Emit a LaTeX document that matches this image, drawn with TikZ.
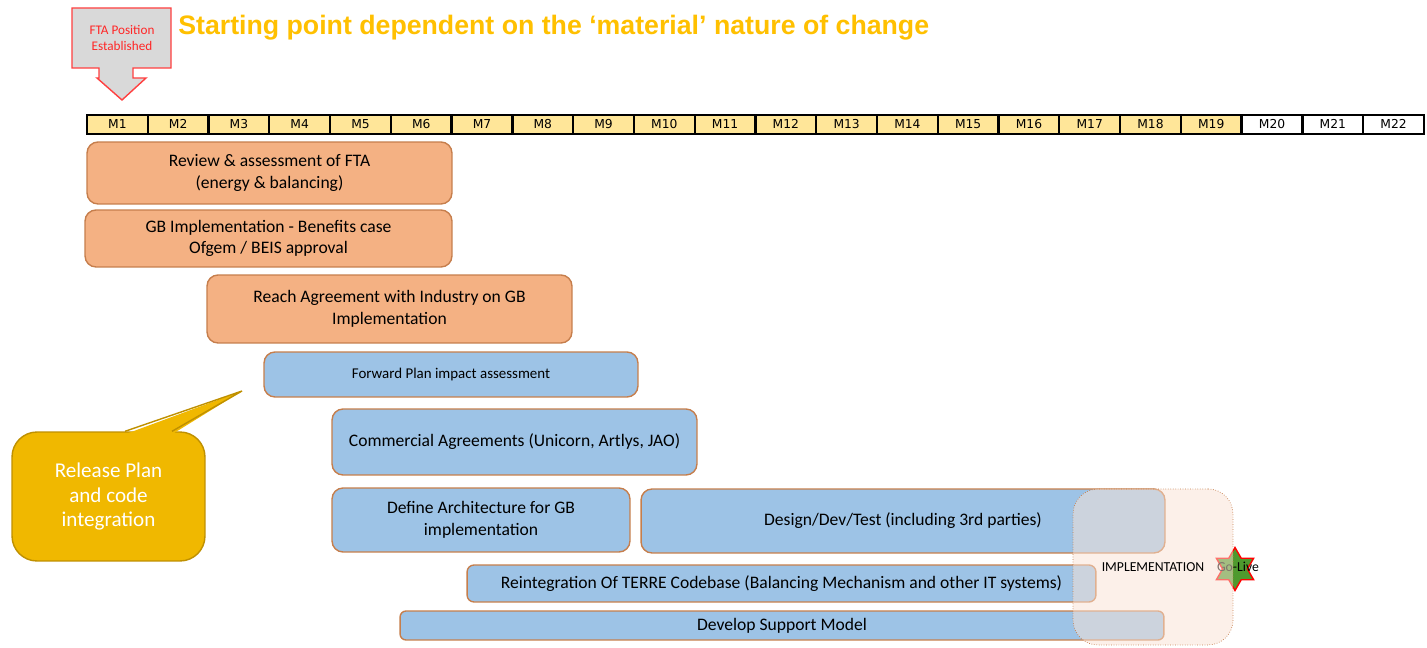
\documentclass[tikz,border=0pt]{standalone}
\usepackage{fontspec}
\setmainfont{Carlito}
\newfontfamily\titlefont{Liberation Sans}
\newfontfamily\monthfont{DejaVu Sans}
\usetikzlibrary{shapes.geometric, positioning}
\definecolor{barorange}{HTML}{F4B183}
\definecolor{barblue}{HTML}{9DC3E6}
\definecolor{barborder}{HTML}{C67E4C}
\definecolor{monthfill}{HTML}{FFE699}
\definecolor{titlegold}{HTML}{FFC000}
\definecolor{calloutfill}{HTML}{F0B800}
\definecolor{calloutborder}{HTML}{BF9000}
\definecolor{implfill}{HTML}{FBE3D5}
\definecolor{golive}{HTML}{4E9A2E}
\definecolor{arrowgrey}{HTML}{D9D9D9}
\tikzstyle{month} = [rectangle, draw, line width=1.3pt, minimum width=1.2154cm,
    minimum height=0.38cm, inner sep=0pt, text height=5.1pt, text depth=0pt,
    font=\monthfont\fontsize{7}{8}\selectfont]
\tikzstyle{task} = [rectangle, draw=barborder, thick, rounded corners=0.22cm,
    align=center, inner sep=0pt, font=\fontsize{10}{12.2}\selectfont]
\tikzstyle{orangetask} = [task, fill=barorange]
\tikzstyle{bluetask} = [task, fill=barblue]
\tikzstyle{callout} = [rectangle, draw=calloutborder, thick, fill=calloutfill,
    rounded corners=0.5cm, align=center, text=white,
    font=\fontsize{12}{14.2}\selectfont]

\begin{document}
\begin{tikzpicture}[x=0.02cm, y=-0.02cm]
	\fill[white] (0,0) rectangle (1427,648);
	\useasboundingbox (0,0) rectangle (1427,648);
	% heading
	\draw[red!75, thick, fill=arrowgrey] (72,8) -- (171,8) -- (171,68) -- (133,68)
		-- (133,78) -- (146,78) -- (122,100) -- (97,78) -- (99,78) -- (99,68)
		-- (72,68) -- cycle;
	\node [align=center, text=red!85, font=\fontsize{7.5}{9}\selectfont]
		(FTA_position) at (122,38) {FTA Position\\Established};
	\node [anchor=base west, inner sep=0pt, text=titlegold,
		font=\titlefont\bfseries\fontsize{15.2}{17}\selectfont] (Title)
		at (178,35) {Starting point dependent on the ‘material’ nature of change};
	% months
	\foreach \i in {1,...,19}
		\node [month, fill=monthfill] (M\i) at ({87+(\i-0.5)*60.77},124.5) {M\i};
	\foreach \i in {20,...,22}
		\node [month, fill=white] (M\i) at ({87+(\i-0.5)*60.77},124.5) {M\i};
	% tasks
	\node [orangetask, minimum width=7.3cm, minimum height=1.24cm] (Review)
		at (269.5,173) {Review \& assessment of FTA\\(energy \& balancing)};
	\node [orangetask, minimum width=7.34cm, minimum height=1.14cm] (Benefits)
		at (268.5,238.5) {GB Implementation - Benefits case\\Ofgem / BEIS approval};
	\node [orangetask, minimum width=7.3cm, minimum height=1.36cm] (Agreement)
		at (389.5,309) {Reach Agreement with Industry on GB\\Implementation};
	\node [bluetask, minimum width=7.48cm, minimum height=0.9cm,
		font=\fontsize{8.5}{10}\selectfont] (Forward_plan)
		at (451,374.5) {Forward Plan impact assessment};
	\node [bluetask, minimum width=7.3cm, minimum height=1.32cm] (Commercial)
		at (514.5,442) {Commercial Agreements (Unicorn, Artlys, JAO)};
	\node [bluetask, minimum width=5.96cm, minimum height=1.28cm] (Architecture)
		at (481,520) {Define Architecture for GB\\implementation};
	\node [bluetask, minimum width=10.48cm, minimum height=1.28cm] (Design)
		at (903,521) {Design/Dev/Test (including 3rd parties)};
	\node [bluetask, minimum width=12.58cm, minimum height=0.74cm,
		rounded corners=0.14cm] (Reintegration) at (781.5,583.5)
		{Reintegration Of TERRE Codebase (Balancing Mechanism and other IT systems)};
	\node [bluetask, minimum width=15.28cm, minimum height=0.58cm,
		rounded corners=0.12cm] (Support) at (782,625.5) {Develop Support Model};
	% go-live
	\node [star, star points=6, star point ratio=1.73, minimum size=0.86cm,
		inner sep=0pt, fill=golive, draw=red, thick] (Golive_star) at (1235,569) {};
	\node [font=\fontsize{7.8}{9}\selectfont, inner sep=0pt] (Golive)
		at (1238,567) {Go-Live};
	\node [rectangle, rounded corners=0.5cm, draw=barborder, densely dotted,
		fill=implfill, fill opacity=0.5, text opacity=1, minimum width=3.2cm,
		minimum height=3.12cm, font=\fontsize{7.8}{9}\selectfont] (Implementation)
		at (1153,567) {IMPLEMENTATION};
	% callout
	\node [callout, minimum width=3.86cm, minimum height=2.58cm] (Release_plan)
		at (108.5,496.5) {Release Plan\\and code\\integration};
	\coordinate (Callout_tip) at (242,391);
	\fill [calloutfill] ([xshift=0.33cm, yshift=-0.06cm]Release_plan.north)
		-- (Callout_tip) -- ([xshift=1.27cm, yshift=-0.06cm]Release_plan.north) -- cycle;
	\draw [calloutborder, thick] ([xshift=0.33cm]Release_plan.north)
		-- (Callout_tip) -- ([xshift=1.27cm]Release_plan.north);
\end{tikzpicture}
\end{document}
